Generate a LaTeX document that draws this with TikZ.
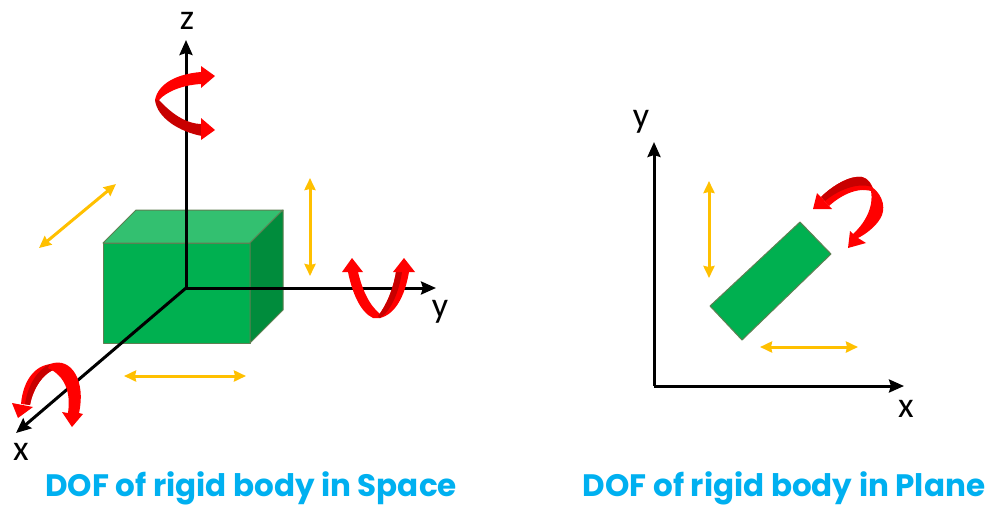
\documentclass[tikz,border=0pt]{standalone}
\usepackage{fontspec}
\setmainfont{Carlito}
\newfontfamily\titlefont[BoldFont={Poppins Bold}]{Poppins}
\usetikzlibrary{arrows.meta}
\definecolor{boxgreen}{HTML}{00B050}
\definecolor{boxtop}{HTML}{33C070}
\definecolor{boxside}{HTML}{008C3C}
\definecolor{boxedge}{HTML}{5E7F52}
\definecolor{ribred}{HTML}{FF0000}
\definecolor{ribdark}{HTML}{C80000}
\definecolor{dofyellow}{HTML}{FFC000}
\definecolor{titleblue}{HTML}{00B0F0}
\tikzset{
  axisline/.style={line width=3pt,-{Stealth[length=15pt,width=13pt,inset=2pt]}},
  axlabel/.style={font=\fontsize{36}{36}\selectfont,text=black,inner sep=0pt},
  doflink/.style={draw=dofyellow,line width=3pt,{Stealth[length=12pt,width=11pt,inset=1pt]}-{Stealth[length=12pt,width=11pt,inset=1pt]}},
  bodyface/.style={draw=boxedge,line width=1pt,line join=round},
  rib/.style={fill=ribred,draw=none},
  ribd/.style={fill=ribdark,draw=none},
  dofcaption/.style={font=\titlefont\bfseries\fontsize{31}{31}\selectfont,text=titleblue,inner sep=0pt}
}
\begin{document}
\begin{tikzpicture}[x=1pt,y=-1pt]
\useasboundingbox (0,0) rectangle (992,507);
\fill[white] (0,0) rectangle (992,507);
% 3D body
\draw[bodyface,fill=boxgreen] (103,243) rectangle (250,343);
\draw[bodyface,fill=boxtop] (103,243) -- (136,210) -- (283,210) -- (250,243) -- cycle;
\draw[bodyface,fill=boxside] (250,243) -- (283,210) -- (283,310) -- (250,343) -- cycle;
% space axes
\coordinate (o) at (186,288);
\coordinate (zend) at (186,40);
\coordinate (yend) at (436,288);
\coordinate (xend) at (16,433);
\draw[axisline] (o) -- (zend);
\draw[axisline] (o) -- (yend);
\draw[axisline] (o) -- (xend);
\node[axlabel] (zl) at (187,21) {z};
\node[axlabel] (yl) at (440,312) {y};
\node[axlabel] (xl) at (21,452) {x};
% yellow DOF arrows
\coordinate (a1) at (116,184); \coordinate (a2) at (39,248);
\coordinate (b1) at (310,178); \coordinate (b2) at (310,276);
\coordinate (c1) at (124,376); \coordinate (c2) at (246,376);
\draw[doflink] (a1) -- (a2);
\draw[doflink] (b1) -- (b2);
\draw[doflink] (c1) -- (c2);
% z rotation
\fill[ribd] (155,100) .. controls (157,118) and (180,132) .. (202,136) -- (202,124) .. controls (185,124) and (170,112) .. (159,100) -- cycle;
\fill[rib] (201,118) -- (215,130) -- (201,140) -- cycle;
\fill[rib] (201,72) .. controls (176,74) and (158,84) .. (155,100) -- (159,100) .. controls (166,92) and (182,85) .. (201,84) -- (201,88) -- (215,76) -- (201,66) -- cycle;
% x rotation
\fill[rib] (21,404) .. controls (23,380) and (36,362) .. (57,364) -- (56,369) .. controls (44,372) and (33,388) .. (30,405) -- cycle;
\fill[ribd] (25,404) .. controls (28,385) and (37,370) .. (50,364) -- (57,365) -- (56,369) .. controls (44,372) and (33,388) .. (30,405) -- cycle;
\fill[rib] (12,403) -- (33,407) -- (18,418) -- cycle;
\fill[rib] (50,364) .. controls (72,356) and (86,382) .. (79,413) -- (83,414) -- (72,427) -- (62,412) -- (68,413) .. controls (71,392) and (65,376) .. (48,368) -- cycle;
% y rotation
\fill[rib] (342,272) -- (352,258) -- (363,272) -- (358,272) .. controls (362,288) and (368,304) .. (380,314) -- (380,318) -- (373,318) .. controls (360,312) and (352,292) .. (348,272) -- cycle;
\fill[rib] (396,272) .. controls (393,290) and (386,306) .. (378,316) -- (380,318) .. controls (396,314) and (405,295) .. (409,272) -- cycle;
\fill[ribd] (396,272) .. controls (393,290) and (386,306) .. (378,316) -- (380,318) .. controls (391,311) and (399,292) .. (402,272) -- cycle;
\fill[rib] (393,272) -- (404,258) -- (415,272) -- cycle;
% plane body
\draw[bodyface,fill=boxgreen] (800,222) -- (831,254) -- (742,340) -- (710,306) -- cycle;
% plane axes
\coordinate (po) at (654,386);
\coordinate (pyend) at (654,142);
\coordinate (pxend) at (904,386);
\draw[axisline] (po) -- (pyend);
\draw[axisline] (po) -- (pxend);
\node[axlabel] (pyl) at (641,122) {y};
\node[axlabel] (pxl) at (906,409) {x};
\coordinate (d1) at (709,181); \coordinate (d2) at (709,278);
\coordinate (e1) at (760,347); \coordinate (e2) at (858,347);
\draw[doflink] (d1) -- (d2);
\draw[doflink] (e1) -- (e2);
% plane rotation
\fill[rib] (821,197) .. controls (832,186) and (850,175) .. (862,177) .. controls (868,178) and (872,184) .. (874,192) .. controls (860,186) and (842,194) .. (829,206) -- cycle;
\fill[ribd] (821,197) .. controls (832,186) and (850,175) .. (862,177) .. controls (866,178) and (870,182) .. (872,187) .. controls (858,182) and (838,190) .. (825,201) -- cycle;
\fill[rib] (817,193) -- (813,209) -- (832,209) -- cycle;
\fill[rib] (872,187) .. controls (884,196) and (886,210) .. (880,219) .. controls (875,227) and (866,234) .. (858,238) -- (866,243) -- (848,248) -- (850,231) -- (853,234) .. controls (864,224) and (874,208) .. (871,191) -- cycle;
% captions
\node[dofcaption] (t1) at (251,488) {DOF of rigid body in Space};
\node[dofcaption] (t2) at (784,488) {DOF of rigid body in Plane};
\end{tikzpicture}
\end{document}
